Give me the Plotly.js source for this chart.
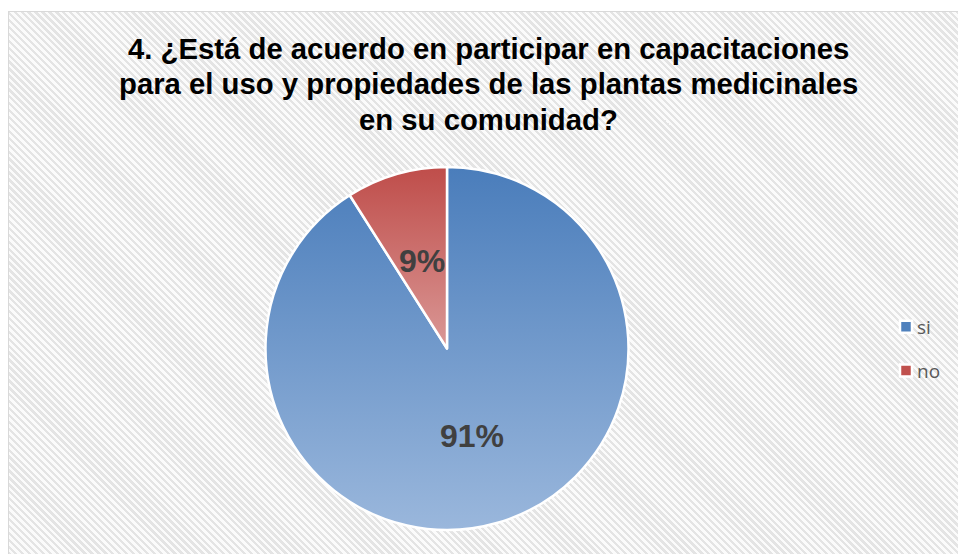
<!DOCTYPE html>
<html>
<head>
<meta charset="utf-8">
<script src="https://cdn.plot.ly/plotly-3.0.1.min.js"></script>
<style>
  html, body { margin: 0; padding: 0; background: #ffffff; width: 958px; height: 554px; overflow: hidden; }
  #frame {
    position: absolute; left: 8px; top: 11px; width: 980px; height: 580px;
    border: 1px solid #d9d9d9; box-sizing: border-box;
    background: repeating-linear-gradient(45deg, #e4e4e4 0px, #e4e4e4 2.4px, #fbfbfb 2.4px, #fbfbfb 4.9px);
  }
  #chart { position: absolute; left: 0; top: 0; width: 958px; height: 554px; }
</style>
</head>
<body>
<div id="frame"></div>
<div id="chart"></div>
<script>
// ---- data ----
const categories = ["si", "no"];
const values = [91, 9];
const titleLines = [
  "4. ¿Está de acuerdo en participar en capacitaciones",
  "para el uso y propiedades de las plantas medicinales",
  "en su comunidad?"
];
const sliceColors = ["#4f81bd", "#c0504d"];
const gradientStops = [["#4a7dbb", "#9ab7dc"], ["#bf4d4a", "#da9896"]];

// ---- layout constants ----
const W = 958, H = 554;
const cx = 447, cy = 348.5, R = 181.5;
const domX = [(cx - R) / W, (cx + R) / W];
const domY = [(H - (cy + R)) / H, (H - (cy - R)) / H];

const total = values.reduce((a, b) => a + b, 0);
const annotations = [];
// percentage labels at half radius along each slice's mid angle (clockwise from 12 o'clock)
let cum = 0;
values.forEach((v, i) => {
  const mid = (cum + v / 2) / total;
  cum += v;
  const th = mid * 2 * Math.PI;
  const px = cx + 0.5 * R * Math.sin(th);
  const py = cy - 0.5 * R * Math.cos(th);
  annotations.push({
    x: px / W, y: (H - py) / H, xref: "paper", yref: "paper",
    xanchor: "center", yanchor: "middle", showarrow: false,
    text: "<b>" + Math.round(v / total * 100) + "%</b>",
    font: { family: "Liberation Sans, Arial, sans-serif", size: 32, color: "#404040" }
  });
});
const titleY = [48, 83.5, 119];
titleLines.forEach((t, i) => {
  annotations.push({
    x: 488 / W, y: (H - titleY[i]) / H, xref: "paper", yref: "paper",
    xanchor: "center", yanchor: "middle", showarrow: false,
    text: "<b>" + t + "</b>",
    font: { family: "Liberation Sans, Arial, sans-serif", size: 29.3, color: "#000000" }
  });
});

const trace = {
  type: "pie",
  labels: categories,
  values: values,
  sort: false,
  direction: "clockwise",
  rotation: 0,
  textinfo: "none",
  hoverinfo: "label+percent",
  domain: { x: domX, y: domY },
  marker: { colors: sliceColors, line: { color: "#ffffff", width: 2.5 } }
};

const layout = {
  width: W, height: H,
  margin: { l: 0, r: 0, t: 0, b: 0, pad: 0 },
  paper_bgcolor: "rgba(0,0,0,0)",
  plot_bgcolor: "rgba(0,0,0,0)",
  showlegend: true,
  legend: {
    x: 886 / W, y: (H - 308) / H, xanchor: "left", yanchor: "top",
    bgcolor: "rgba(0,0,0,0)",
    font: { family: "Open Sans, sans-serif", size: 19, color: "#595959" }
  },
  annotations: annotations
};

Plotly.newPlot("chart", [trace], layout, { displayModeBar: false, staticPlot: true }).then(gd => {
  const svg = gd.querySelector(".main-svg");
  let defs = svg.querySelector("defs");
  const NS = "http://www.w3.org/2000/svg";
  gradientStops.forEach((st, i) => {
    const g = document.createElementNS(NS, "linearGradient");
    g.setAttribute("id", "sliceGrad" + i);
    g.setAttribute("x1", "0"); g.setAttribute("y1", "0");
    g.setAttribute("x2", "0"); g.setAttribute("y2", "1");
    [[0, st[0]], [1, st[1]]].forEach(([o, c]) => {
      const s = document.createElementNS(NS, "stop");
      s.setAttribute("offset", o);
      s.setAttribute("stop-color", c);
      g.appendChild(s);
    });
    defs.appendChild(g);
  });
  gd.querySelectorAll(".pielayer .slice path.surface").forEach((p, i) => {
    p.style.fill = "url(#sliceGrad" + i + ")";
  });
  // legend: tighter symbol-text gap and wider row spacing, as in the reference
  gd.querySelectorAll(".legend [clip-path]").forEach(el => el.removeAttribute("clip-path"));
  gd.querySelectorAll(".legend .traces").forEach((tr, i) => {
    const m = /translate\(([-\d.]+)[ ,]+([-\d.]+)\)/.exec(tr.getAttribute("transform") || "");
    if (m) tr.setAttribute("transform", "translate(" + m[1] + "," + (parseFloat(m[2]) + i * 16) + ")");
    const t = tr.querySelector("text.legendtext");
    if (t) t.setAttribute("x", "31");
  });
});
</script>
</body>
</html>
